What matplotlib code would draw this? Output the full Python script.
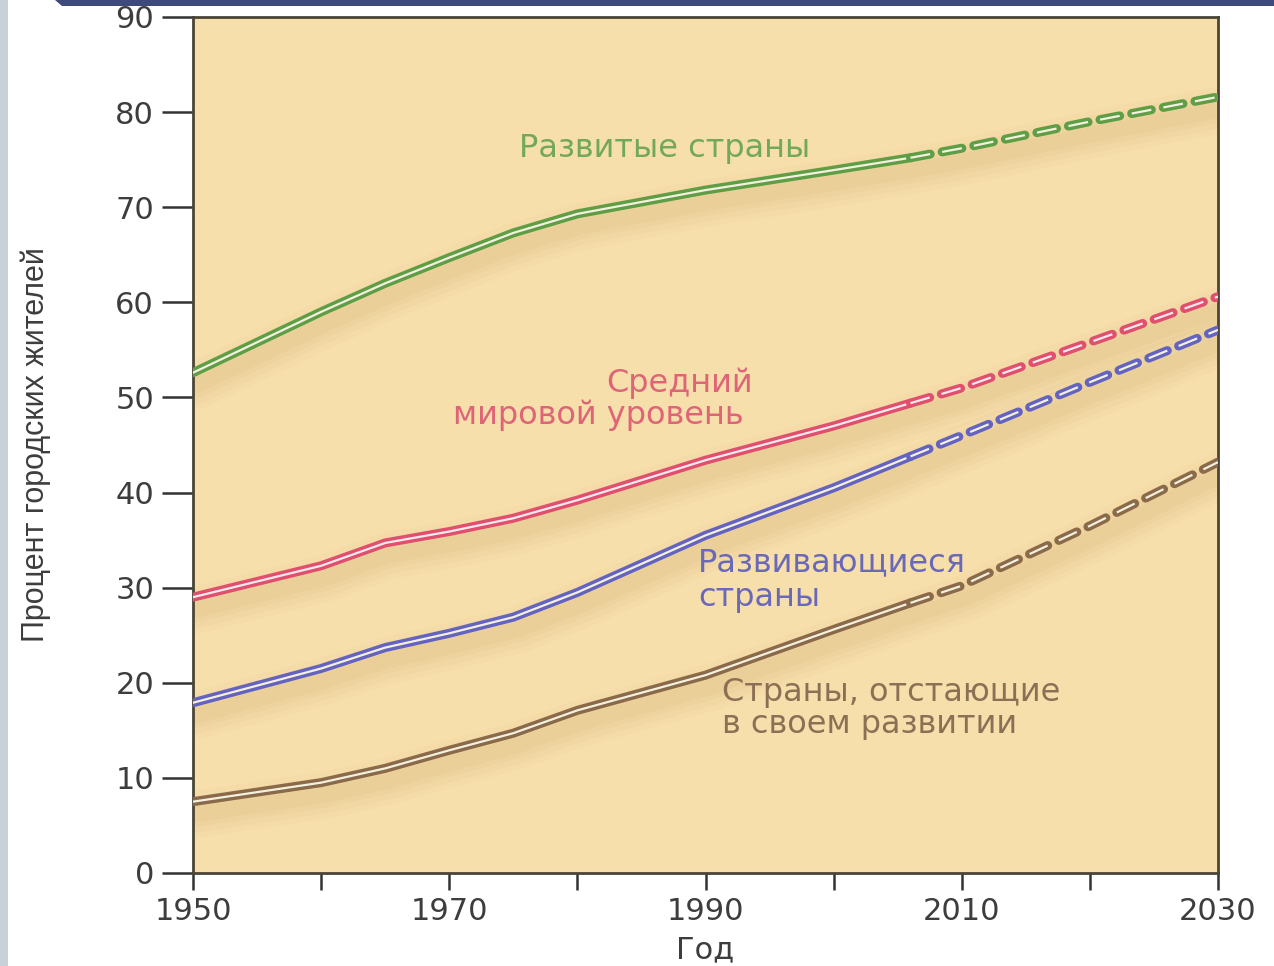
import matplotlib
matplotlib.use("Agg")
import matplotlib.pyplot as plt
import matplotlib.patheffects as pe
from matplotlib.patches import Polygon, Rectangle

# Data (percent of urban population)
years_hist = [1950, 1960, 1965, 1970, 1975, 1980, 1990, 2000, 2006]
years_proj = [2006, 2010, 2020, 2030]

developed_hist = [52.6, 59.0, 62.0, 64.7, 67.3, 69.3, 71.8, 73.9, 75.2]
developed_proj = [75.2, 76.2, 79.0, 81.6]

world_hist = [29.0, 32.3, 34.7, 35.9, 37.3, 39.2, 43.4, 47.0, 49.4]
world_proj = [49.4, 51.0, 55.8, 60.6]

developing_hist = [17.9, 21.5, 23.7, 25.2, 26.9, 29.5, 35.5, 40.5, 43.8]
developing_proj = [43.8, 46.0, 51.6, 57.1]

least_hist = [7.5, 9.5, 11.0, 12.9, 14.7, 17.1, 20.8, 25.6, 28.4]
least_proj = [28.4, 30.2, 36.5, 43.2]

series = [
    ("developed", developed_hist, developed_proj, "#5f9e45"),
    ("world", world_hist, world_proj, "#e0506e"),
    ("developing", developing_hist, developing_proj, "#6464c0"),
    ("least", least_hist, least_proj, "#8a6a48"),
]

x_ticks = [1950, 1970, 1990, 2010, 2030]
x_minor = [1960, 1980, 2000, 2020]
y_ticks = [0, 10, 20, 30, 40, 50, 60, 70, 80, 90]

W, H = 1274, 966
fig = plt.figure(figsize=(W / 100, H / 100), dpi=100)
fig.patch.set_facecolor("white")

# slide decorations
fig.patches.append(Rectangle((0, 0), 8 / W, 1, transform=fig.transFigure,
                             facecolor="#c6d1d9", edgecolor="none"))
fig.patches.append(Polygon([(55 / W, 1), (1, 1), (1, 1 - 6 / H), (62 / W, 1 - 6 / H)],
                           closed=True, transform=fig.transFigure,
                           facecolor="#3e4a7c", edgecolor="none"))

ax = fig.add_axes([193 / W, 1 - 873 / H, (1218 - 193) / W, (873 - 17) / H])
ax.set_facecolor("#f7dfab")

# soft shadows under the curves
for name, hist, proj, col in series:
    xs = years_hist + years_proj[1:]
    ys = hist + proj[1:]
    shadow = [pe.SimpleLineShadow(offset=(3, -9), shadow_color="#b07a3a", alpha=a, linewidth=w)
              for w, a in [(34, 0.03), (26, 0.035), (18, 0.04), (11, 0.045)]]
    ax.plot(xs, ys, color=col, lw=6, alpha=0.0, solid_capstyle="round",
            path_effects=shadow + [pe.Normal()], zorder=2)

for name, hist, proj, col in series:
    inner = "#fbe9ee" if name == "world" else "#f4f0e0"
    ax.plot(years_hist, hist, color=inner, lw=1.6, solid_capstyle="round", zorder=3,
            path_effects=[pe.Stroke(linewidth=6.5, foreground=col), pe.Normal()])
    ax.plot(years_proj, proj, color=inner, lw=1.6, zorder=3,
            linestyle=(0, (9, 5.5)), dash_capstyle="butt",
            path_effects=[pe.Stroke(linewidth=6.5, foreground=col, capstyle="round"),
                          pe.Normal()])

ax.set_xlim(1950, 2030)
ax.set_ylim(0, 90)
ax.set_xticks(x_ticks)
ax.set_xticks(x_minor, minor=True)
ax.set_yticks(y_ticks)

tick_col = "#3d3d3d"
ax.tick_params(axis="y", direction="out", length=22, width=1.8, color="#333333",
               labelsize=22, labelcolor=tick_col, pad=6)
ax.tick_params(axis="x", which="both", direction="out", length=12, width=1.8,
               color="#333333", labelsize=22, labelcolor=tick_col, pad=5)
for s in ax.spines.values():
    s.set_color("#4a4538")
    s.set_linewidth(2)

ax.set_xlabel("Год", fontsize=22, color=tick_col, labelpad=7)
ax.set_ylabel("Процент городских жителей", fontsize=22, color=tick_col,
              family="Liberation Sans")
ax.yaxis.set_label_coords(-0.139, 0.5)

lbl = dict(fontsize=23, family="DejaVu Sans", va="center")
ax.text(1986.8, 76.2, "Развитые страны", color="#72a85a", ha="center", **lbl)
ax.text(1988.0, 51.5, "Средний", color="#de6478", ha="center", **lbl)
ax.text(1981.6, 48.1, "мировой уровень", color="#de6478", ha="center", **lbl)
ax.text(1989.4, 32.6, "Развивающиеся", color="#6a68b8", ha="left", **lbl)
ax.text(1989.4, 29.0, "страны", color="#6a68b8", ha="left", **lbl)
ax.text(1991.3, 19.0, "Страны, отстающие", color="#8c7055", ha="left", **lbl)
ax.text(1991.3, 15.6, "в своем развитии", color="#8c7055", ha="left", **lbl)

fig.savefig("out.png", dpi=100)
